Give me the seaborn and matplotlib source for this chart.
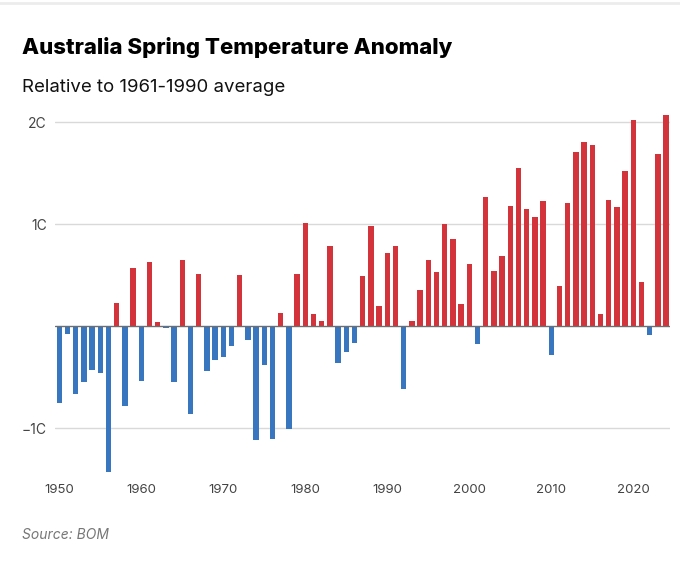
import matplotlib
matplotlib.use("Agg")
import matplotlib.pyplot as plt
import seaborn as sns
import pandas as pd
import numpy as np

years = list(range(1950, 2025))
anomaly = [
    -0.75, -0.08, -0.67, -0.55, -0.43, -0.46, -1.43, 0.23, -0.78, 0.57,
    -0.54, 0.63, 0.04, -0.02, -0.55, 0.65, -0.86, 0.51, -0.44, -0.33,
    -0.30, -0.19, 0.50, -0.14, -1.12, -0.38, -1.11, 0.13, -1.01, 0.51,
    1.01, 0.12, 0.05, 0.79, -0.36, -0.25, -0.17, 0.49, 0.98, 0.20,
    0.72, 0.79, -0.62, 0.05, 0.35, 0.65, 0.53, 1.00, 0.85, 0.22,
    0.61, -0.18, 1.27, 0.54, 0.69, 1.18, 1.55, 1.15, 1.07, 1.23,
    -0.28, 0.39, 1.21, 1.71, 1.81, 1.78, 0.12, 1.24, 1.17, 1.52,
    2.02, 0.43, -0.09, 1.69, 2.07,
]
ytick_vals = [-1, 1, 2]
ytick_labels = ["\u22121C", "1C", "2C"]
xtick_years = [1950, 1960, 1970, 1980, 1990, 2000, 2010, 2020]

df = pd.DataFrame({"year": years, "anomaly": anomaly})
df["sign"] = np.where(df["anomaly"] >= 0, "pos", "neg")

sns.set_theme(style="white")
plt.rcParams["font.family"] = ["Inter", "DejaVu Sans"]

W, H = 680, 562
fig = plt.figure(figsize=(W / 100, H / 100), dpi=100)
ax = fig.add_axes([55 / W, 1 - 476 / H, (670 - 55) / W, (476 - 110) / H])

sns.barplot(data=df, x="year", y="anomaly", hue="sign",
            palette={"pos": "#d3343c", "neg": "#3877c0"},
            dodge=False, width=0.67, legend=False, ax=ax,
            saturation=1, linewidth=0)

ax.set_xlim(-0.53, 74.47)
ax.set_ylim(-1.47, 2.12)
for s in ax.spines.values():
    s.set_visible(False)

for v in ytick_vals:
    ax.axhline(v, color="#d9d9d9", lw=1, zorder=0)
ax.axhline(0, color="#6e6e6e", lw=1.0, zorder=3)

ax.set_yticks(ytick_vals)
ax.set_yticklabels(ytick_labels)
ax.set_xticks([years.index(y) for y in xtick_years])
ax.set_xticklabels([str(y) for y in xtick_years])
ax.tick_params(axis="y", length=0, pad=6, labelsize=10, labelcolor="#444444")
ax.tick_params(axis="x", length=0, pad=6, labelsize=9.5, labelcolor="#444444")
ax.set_xlabel("")
ax.set_ylabel("")

fig.add_artist(plt.Line2D([0, 1], [1 - 2.5 / H, 1 - 2.5 / H], color="#ececec", lw=2))
fig.text(22 / W, 1 - 47 / H, "Australia Spring Temperature Anomaly",
         fontsize=16, fontweight="heavy", color="#000000", va="center", ha="left")
fig.text(22 / W, 1 - 87 / H, "Relative to 1961-1990 average",
         fontsize=13.4, color="#111111", va="center", ha="left")
fig.text(22 / W, 1 - 535 / H, "Source: BOM",
         fontsize=10, style="italic", color="#777777", va="center", ha="left")

fig.savefig("out.png", dpi=100)
